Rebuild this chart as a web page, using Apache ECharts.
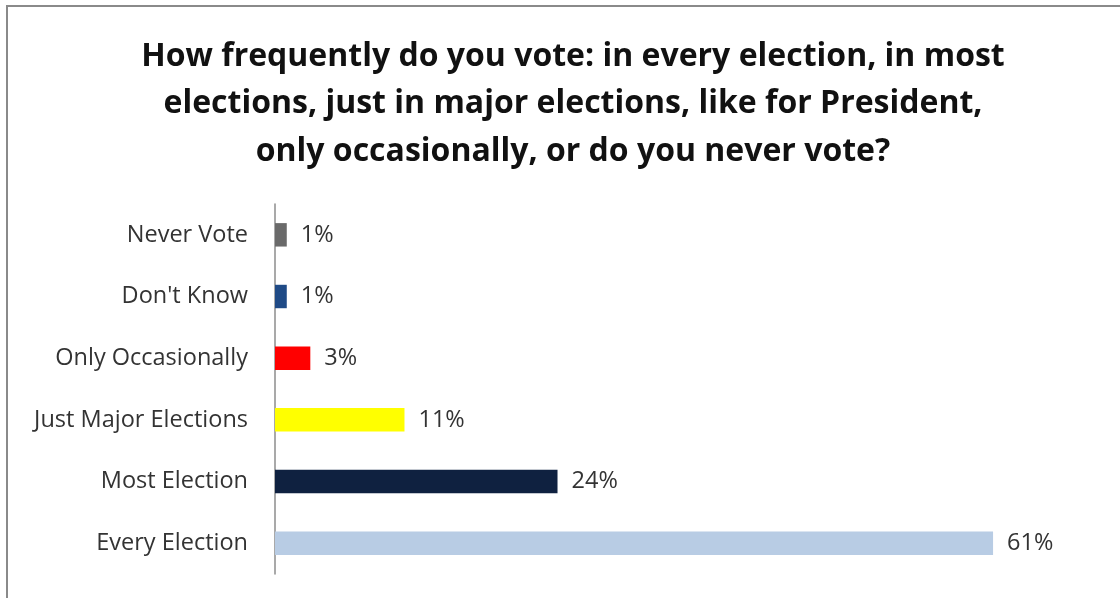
<!DOCTYPE html>
<html>
<head>
<meta charset="utf-8">
<script src="https://cdn.jsdelivr.net/npm/echarts@6/dist/echarts.min.js"></script>
<style>
html,body{margin:0;padding:0;background:#fff;}
#chart{width:1120px;height:598px;}
</style>
</head>
<body>
<div id="chart"></div>
<script>
const titleText = "How frequently do you vote: in every election, in most\nelections, just in major elections, like for President,\nonly occasionally, or do you never vote?";
const categories = ["Never Vote", "Don't Know", "Only Occasionally", "Just Major Elections", "Most Election", "Every Election"];
const values = [1, 1, 3, 11, 24, 61];
const barColors = ["#6a6a6a", "#1f4a86", "#ff0000", "#ffff00", "#0f2140", "#b8cce4"];

const chart = echarts.init(document.getElementById('chart'));
chart.setOption({
  animation: false,
  backgroundColor: '#ffffff',
  graphic: [{
    type: 'rect',
    shape: { x: 7, y: 6, width: 1300, height: 800 },
    style: { fill: 'none', stroke: '#8a8a8a', lineWidth: 2 },
    silent: true
  }],
  title: {
    text: titleText,
    left: 568,
    textAlign: 'center',
    top: 28,
    textStyle: {
      fontFamily: 'Open Sans',
      fontWeight: 'bold',
      fontSize: 32,
      lineHeight: 47.5,
      color: '#111'
    }
  },
  grid: { left: 275, right: 21, top: 204, bottom: 24, containLabel: false },
  xAxis: {
    type: 'value',
    min: 0,
    max: 70,
    show: false
  },
  yAxis: {
    type: 'category',
    inverse: true,
    data: categories,
    axisLine: { show: true, lineStyle: { color: '#8c8c8c', width: 1.5 } },
    axisTick: { show: false },
    axisLabel: {
      margin: 27,
      fontFamily: 'Open Sans',
      fontSize: 23.5,
      color: '#333'
    }
  },
  series: [{
    type: 'bar',
    data: values.map((v, i) => ({ value: v, itemStyle: { color: barColors[i] } })),
    barCategoryGap: '62%',
    label: {
      show: true,
      position: 'right',
      distance: 14,
      formatter: '{c}%',
      fontFamily: 'Open Sans',
      fontSize: 23.5,
      color: '#333'
    }
  }]
});
</script>
</body>
</html>
